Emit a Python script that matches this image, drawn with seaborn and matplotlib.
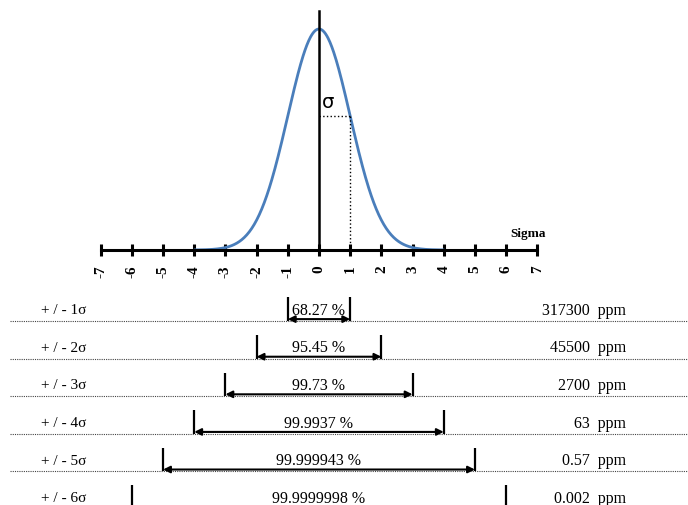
import numpy as np
import pandas as pd
import matplotlib
matplotlib.use("Agg")
import matplotlib.pyplot as plt
import seaborn as sns

# Data
ticks = list(range(-7, 8))
sigma_levels = [1, 2, 3, 4, 5, 6]
row_labels = ["+ / - 1σ", "+ / - 2σ", "+ / - 3σ", "+ / - 4σ", "+ / - 5σ", "+ / - 6σ"]
within_pct = ["68.27 %", "95.45 %", "99.73 %", "99.9937 %", "99.999943 %", "99.9999998 %"]
outside_ppm = ["317300  ppm", "45500  ppm", "2700  ppm", "63  ppm", "0.57  ppm", "0.002  ppm"]

# normal curve
x = np.linspace(-4, 4, 400)
curve = pd.DataFrame({"sigma": x, "density": np.exp(-x ** 2 / 2) / np.sqrt(2 * np.pi)})
peak = 1 / np.sqrt(2 * np.pi)
y_at_1 = np.exp(-0.5) / np.sqrt(2 * np.pi)

sns.set_style("white")
plt.rcParams["text.color"] = "black"
plt.rcParams["xtick.color"] = "black"
serif = ["Liberation Serif", "DejaVu Serif"]

fig = plt.figure(figsize=(6.88, 5.06), dpi=100)
W, H = 688, 506
px = 31.19
x0 = 319
xlim = (-x0 / px, (W - x0) / px)
axis_px = 251

# Top: bell curve
ax = fig.add_axes([0, 1 - axis_px / H, 1, axis_px / H])
sns.lineplot(data=curve, x="sigma", y="density", ax=ax, color="#4a7ebb", linewidth=2)
ax.set_xlim(*xlim)
ax.set_ylim(0, axis_px * peak / 221)
ax.set_xlabel("")
ax.set_ylabel("")
for s in ["top", "right"]:
    ax.spines[s].set_visible(False)
ax.spines["left"].set_position(("data", 0))
ax.spines["left"].set_bounds(0, (axis_px - 12) * peak / 221)
ax.spines["left"].set_linewidth(1.8)
ax.spines["bottom"].set_bounds(-7, 7)
ax.spines["bottom"].set_linewidth(2.2)
ax.spines["left"].set_color("black")
ax.spines["bottom"].set_color("black")
ax.set_yticks([])
ax.set_xticks(ticks)
ax.set_xticklabels([str(t) for t in ticks], rotation=90, fontfamily=serif,
                   fontweight="bold", fontsize=11, color="black")
ax.tick_params(axis="x", bottom=True, direction="inout", length=9, width=2.2,
               pad=6, color="black")

ax.plot([0, 1], [y_at_1, y_at_1], color="black", linestyle=":", linewidth=1)
ax.plot([1, 1], [0, y_at_1], color="black", linestyle=":", linewidth=1)
ax.text(0.3, (axis_px - 103) * peak / 221, "σ", fontsize=14, family=["DejaVu Sans"],
        ha="center", va="center")
ax.text(6.7, (axis_px - 234) * peak / 221, "Sigma", fontsize=9.5, family=serif,
        fontweight="bold", ha="center", va="center")

# Bottom: table of sigma ranges
row0 = 322
step = 37.6
bx = fig.add_axes([0, 0, 1, (H - axis_px) / H])
bx.set_xlim(*xlim)
bx.set_ylim((H - row0) / step, (axis_px - row0) / step)
bx.axis("off")
tr = bx.get_yaxis_transform()

for i, k in enumerate(sigma_levels):
    bx.axhline(i, xmin=10 / W, xmax=1, color="#444444", linestyle=(0, (1, 1)), linewidth=0.8)
    bx.text(41 / W, i - 0.3, row_labels[i], transform=tr, family=serif, fontsize=11,
            ha="left", va="center")
    bx.text(0, i - 0.3, within_pct[i], family=serif, fontsize=11.5, ha="center", va="center")
    bx.text(626 / W, i - 0.3, outside_ppm[i], transform=tr, family=serif, fontsize=11.5,
            ha="right", va="center")
    bx.vlines([-k, k], i - 0.63, i, color="black", linewidth=1.6)
    bx.annotate("", xy=(k, i - 0.05), xytext=(-k, i - 0.05),
                arrowprops=dict(arrowstyle="<|-|>", color="black", lw=1.5,
                                mutation_scale=10, shrinkA=0, shrinkB=0))

fig.savefig("out.png", dpi=100)
